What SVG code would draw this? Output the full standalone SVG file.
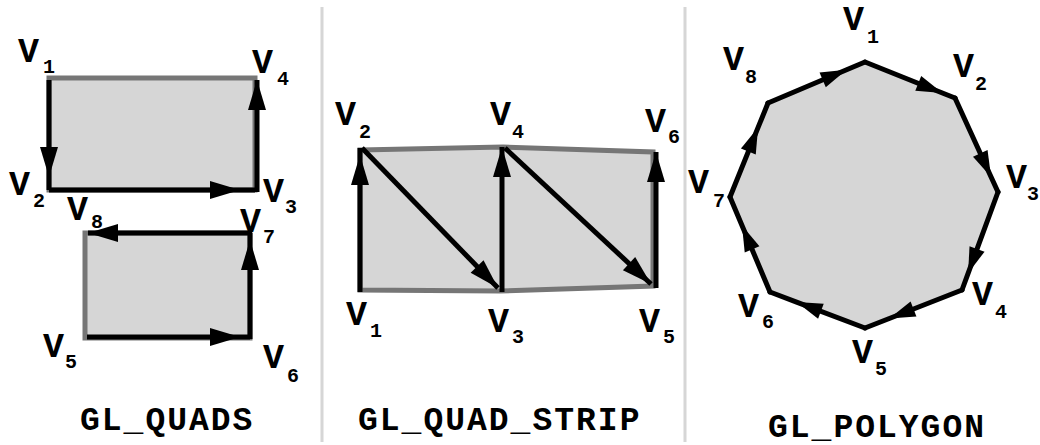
<svg xmlns="http://www.w3.org/2000/svg" width="1040" height="445" viewBox="0 0 1040 445">
<style>
.fill{fill:#d6d6d6}
.edge{fill:#d6d6d6;stroke:#767676;stroke-width:5}
.arw{fill:none;stroke:#000;stroke-width:5}
.parw{fill:none;stroke:#000;stroke-width:5;stroke-linecap:round}
.lbl{font-family:"Liberation Mono","DejaVu Sans Mono",monospace;font-weight:bold;font-size:35px;fill:#000}
.sub{font-size:20px}
.title{font-family:"Liberation Mono","DejaVu Sans Mono",monospace;font-weight:bold;font-size:33px;letter-spacing:2px;fill:#000}
.div{stroke:#d6d6d6;stroke-width:3}
</style>
<defs>
<marker id="ah" markerUnits="userSpaceOnUse" markerWidth="32" markerHeight="20" refX="30" refY="10" orient="auto" overflow="visible"><path d="M0,1 L30,10 L0,19 Z" fill="#000"/></marker>
<marker id="ahs" markerUnits="userSpaceOnUse" markerWidth="28" markerHeight="20" refX="26" refY="10" orient="auto" overflow="visible"><path d="M0,2 L26,10 L0,18 Z" fill="#000"/></marker>
</defs>
<rect width="1040" height="445" fill="#fff"/>
<line class="div" x1="322" y1="7" x2="322" y2="442"/>
<line class="div" x1="685" y1="7" x2="685" y2="442"/>

<g id="quads">
<rect class="edge" x="49" y="78" width="206" height="112"/>
<rect class="edge" x="85" y="233" width="165" height="105"/>
</g>
<g id="quad-strip">
<polygon class="edge" points="360,150 503,147 653,152 653,286 500,291 360,290"/>
</g>
<g id="polygon">
<polygon class="fill" points="865,62 955,98 998,192 962,290 865,328 770,292 730,197 768,103"/>
</g>

<g id="connectors">
<path class="arw" d="M49,80 L49,177 L49,190" marker-mid="url(#ah)"/>
<path class="arw" d="M49,190 L240,190 L255,190" marker-mid="url(#ah)"/>
<path class="arw" d="M257,192 L257,80" marker-end="url(#ah)"/>
<path class="arw" d="M87,337 L240,337 L250,337" marker-mid="url(#ah)"/>
<path class="arw" d="M250,339 L250,240 L250,233" marker-mid="url(#ah)"/>
<path class="arw" d="M252,233 L88,233" marker-end="url(#ah)"/>

<path class="arw" d="M360,292 L360,155 L360,148" marker-mid="url(#ah)"/>
<path class="arw" d="M362,148 L498,288" marker-end="url(#ah)"/>
<path class="arw" d="M502,292 L502,147" marker-end="url(#ah)"/>
<path class="arw" d="M505,148 L651,284" marker-end="url(#ah)"/>
<path class="arw" d="M656,288 L656,152" marker-end="url(#ah)"/>

<path class="parw" d="M865,62 L942.4,93 L955,98" marker-mid="url(#ahs)"/>
<path class="parw" d="M955,98 L991.1,177 L998,192" marker-mid="url(#ahs)"/>
<path class="parw" d="M998,192 L968.1,273.3 L962,290" marker-mid="url(#ahs)"/>
<path class="parw" d="M962,290 L889.3,318.5 L865,328" marker-mid="url(#ahs)"/>
<path class="parw" d="M865,328 L796.6,302.1 L770,292" marker-mid="url(#ahs)"/>
<path class="parw" d="M770,292 L742,225.5 L730,197" marker-mid="url(#ahs)"/>
<path class="parw" d="M730,197 L758.1,127.4 L768,103" marker-mid="url(#ahs)"/>
<path class="parw" d="M768,103 L846.6,69.8 L865,62" marker-mid="url(#ahs)"/>
</g>

<g id="quads-labels">
<g id="q-v1"><text class="lbl" x="18" y="62">V<tspan class="sub" x="43" y="73">1</tspan></text></g>
<g id="q-v4"><text class="lbl" x="252" y="73">V<tspan class="sub" x="277" y="85">4</tspan></text></g>
<g id="q-v2"><text class="lbl" x="9" y="195">V<tspan class="sub" x="33" y="207">2</tspan></text></g>
<g id="q-v3"><text class="lbl" x="263" y="202">V<tspan class="sub" x="285" y="213">3</tspan></text></g>
<g id="q-v8"><text class="lbl" x="67" y="220">V<tspan class="sub" x="91" y="228">8</tspan></text></g>
<g id="q-v7"><text class="lbl" x="240" y="232">V<tspan class="sub" x="263" y="243">7</tspan></text></g>
<g id="q-v5"><text class="lbl" x="43" y="357">V<tspan class="sub" x="65" y="368">5</tspan></text></g>
<g id="q-v6"><text class="lbl" x="263" y="368">V<tspan class="sub" x="287" y="382">6</tspan></text></g>
<text class="title" x="80" y="430">GL_QUADS</text>
</g>

<g id="strip-labels">
<g id="s-v2"><text class="lbl" x="335" y="125">V<tspan class="sub" x="359" y="138">2</tspan></text></g>
<g id="s-v4"><text class="lbl" x="490" y="125">V<tspan class="sub" x="512" y="138">4</tspan></text></g>
<g id="s-v6"><text class="lbl" x="645" y="132">V<tspan class="sub" x="668" y="143">6</tspan></text></g>
<g id="s-v1"><text class="lbl" x="346" y="325">V<tspan class="sub" x="370" y="337">1</tspan></text></g>
<g id="s-v3"><text class="lbl" x="488" y="332">V<tspan class="sub" x="512" y="343">3</tspan></text></g>
<g id="s-v5"><text class="lbl" x="639" y="332">V<tspan class="sub" x="663" y="343">5</tspan></text></g>
<text class="title" x="358" y="430">GL_QUAD_STRIP</text>
</g>

<g id="polygon-labels">
<g id="p-v1"><text class="lbl" x="843" y="30">V<tspan class="sub" x="867" y="43">1</tspan></text></g>
<g id="p-v8"><text class="lbl" x="723" y="70">V<tspan class="sub" x="745" y="83">8</tspan></text></g>
<g id="p-v2"><text class="lbl" x="953" y="77">V<tspan class="sub" x="975" y="90">2</tspan></text></g>
<g id="p-v3"><text class="lbl" x="1006" y="188">V<tspan class="sub" x="1027" y="200">3</tspan></text></g>
<g id="p-v7"><text class="lbl" x="688" y="193">V<tspan class="sub" x="713" y="207">7</tspan></text></g>
<g id="p-v6"><text class="lbl" x="738" y="317">V<tspan class="sub" x="762" y="328">6</tspan></text></g>
<g id="p-v5"><text class="lbl" x="852" y="363">V<tspan class="sub" x="875" y="375">5</tspan></text></g>
<g id="p-v4"><text class="lbl" x="972" y="305">V<tspan class="sub" x="995" y="318">4</tspan></text></g>
<text class="title" x="768" y="437">GL_POLYGON</text>
</g>
</svg>
